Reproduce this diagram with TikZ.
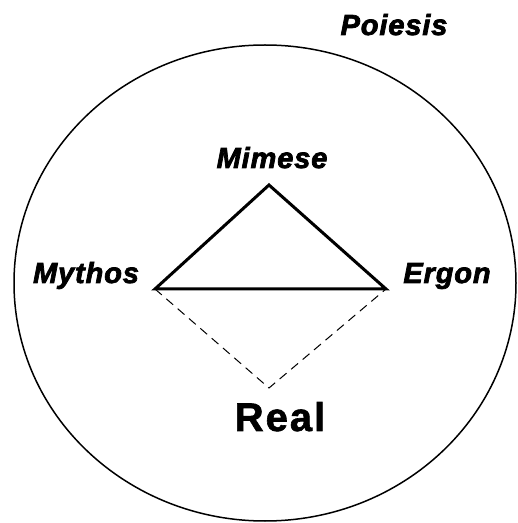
\documentclass[tikz,border=0pt]{standalone}
\usepackage{fontspec}
\setmainfont{Liberation Sans}
\newfontfamily\labelfont[LetterSpace=3, BoldItalicFeatures={FakeBold=2.5}]{Liberation Sans}
\newfontfamily\realfont[LetterSpace=5, BoldFeatures={FakeBold=1.5}]{Liberation Sans}
\usetikzlibrary{positioning}
\definecolor{InkBlack}{HTML}{000000}

\tikzset{
  concept/.style={inner sep=0pt, anchor=base, text=InkBlack,
    font=\labelfont\bfseries\itshape\fontsize{29}{33}\selectfont},
  side/.style={line width=3pt, draw=InkBlack, line join=miter},
  hidden/.style={line width=1pt, draw=InkBlack, dash pattern=on 9pt off 6pt}
}

\begin{document}
\begin{tikzpicture}[x=1pt, y=1pt]
  \useasboundingbox (0,0) rectangle (518,523);

  % outer field
  \draw[line width=1.5pt, InkBlack] (265,240) ellipse [x radius=251, y radius=238];

  % corners of the triangle
  \coordinate (top)    at (269,338);
  \coordinate (left)   at (155,234);
  \coordinate (right)  at (386,234);
  \coordinate (bottom) at (269,135);

  \draw[side] (left) -- (top) -- (right) -- cycle;
  \draw[hidden] (left) -- (bottom) -- (right);

  % labels
  \node[concept] (poiesis) at (394,488) {Poiesis};
  \node[concept] (mimese)  at (272,355) {Mimese};
  \node[concept] (mythos)  at (86,240)  {Mythos};
  \node[concept] (ergon)   at (447,240) {Ergon};
  \node[inner sep=0pt, anchor=base, text=InkBlack,
        font=\realfont\bfseries\fontsize{40}{46}\selectfont] (real) at (280,92) {Real};
\end{tikzpicture}
\end{document}
